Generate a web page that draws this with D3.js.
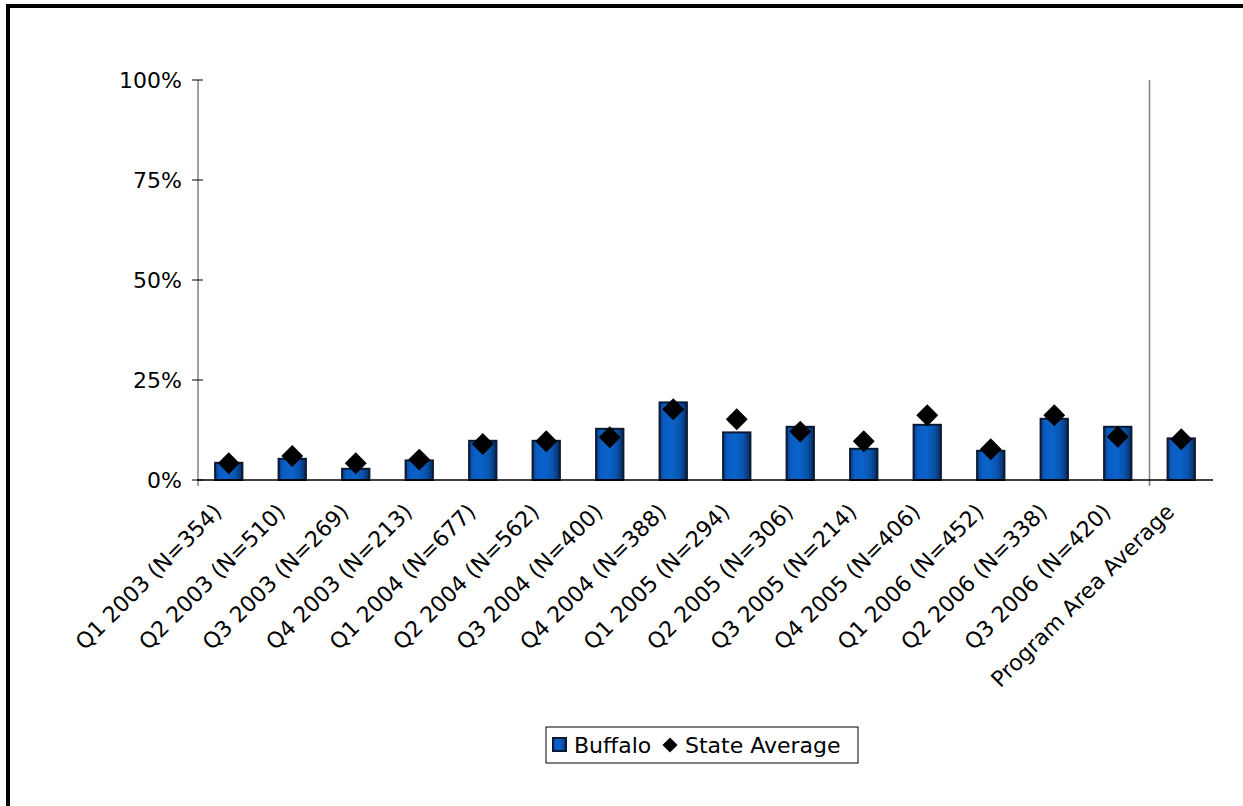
<!DOCTYPE html>
<html>
<head>
<meta charset="utf-8">
<script src="https://cdn.jsdelivr.net/npm/d3@7"></script>
<style>
  body { margin: 0; background: #fff; }
  text { font-family: Verdana, "DejaVu Sans", sans-serif; fill: #000; }
</style>
</head>
<body>
<script>
var categories = ["Q1 2003 (N=354)", "Q2 2003 (N=510)", "Q3 2003 (N=269)", "Q4 2003 (N=213)",
                  "Q1 2004 (N=677)", "Q2 2004 (N=562)", "Q3 2004 (N=400)", "Q4 2004 (N=388)",
                  "Q1 2005 (N=294)", "Q2 2005 (N=306)", "Q3 2005 (N=214)", "Q4 2005 (N=406)",
                  "Q1 2006 (N=452)", "Q2 2006 (N=338)", "Q3 2006 (N=420)", "Program Area Average"];
var buffalo = [4.3, 5.3, 2.8, 4.9, 9.8, 9.8, 12.8, 19.4, 11.9, 13.3, 7.8, 13.8, 7.3, 15.3, 13.3, 10.4];
var stateAvg = [4.2, 6.0, 4.2, 5.1, 9.0, 9.7, 10.7, 17.7, 15.2, 12.1, 9.7, 16.2, 7.7, 16.2, 10.8, 10.2];
var yTicks = [0, 25, 50, 75, 100];

var w = 1243, h = 806;
var pLeft = 197, pRight = 1213, pTop = 80, pBottom = 480;
var fs = "22px";

var svg = d3.select("body").append("svg")
    .attr("width", w)
    .attr("height", h);

// 棒のグラデーション
var grad = svg.append("defs").append("linearGradient")
    .attr("id", "barGrad").attr("x1", "0%").attr("x2", "100%").attr("y1", "0%").attr("y2", "0%");
[["0%", "#0c3a80"], ["15%", "#0a5cc2"], ["45%", "#0a63ca"], ["75%", "#0953ac"], ["100%", "#0a2a5c"]]
  .forEach(function(s) { grad.append("stop").attr("offset", s[0]).attr("stop-color", s[1]); });

// 外枠（左と上だけ見える）
svg.append("line").attr("x1", 8).attr("x2", 8).attr("y1", 4).attr("y2", h)
   .attr("stroke", "#000").attr("stroke-width", 4);
svg.append("line").attr("x1", 6).attr("x2", w).attr("y1", 6).attr("y2", 6)
   .attr("stroke", "#000").attr("stroke-width", 4);

var x = d3.scaleBand().domain(categories).range([pLeft, pRight]).padding(0);
var y = d3.scaleLinear().domain([0, 100]).range([pBottom, pTop]);
var barW = x.bandwidth() * 0.43;

// y 軸
svg.append("line").attr("x1", pLeft + 1).attr("x2", pLeft + 1).attr("y1", pTop).attr("y2", pBottom + 6)
   .attr("stroke", "#808080").attr("stroke-width", 1.5);
svg.selectAll(".ytick")
   .data(yTicks)
   .enter()
   .append("line")
   .attr("x1", pLeft - 5).attr("x2", pLeft + 6)
   .attr("y1", function(d) { return y(d); })
   .attr("y2", function(d) { return y(d); })
   .attr("stroke", "#000").attr("stroke-width", 1);
svg.selectAll(".ylab")
   .data(yTicks)
   .enter()
   .append("text")
   .attr("x", pLeft - 15)
   .attr("y", function(d) { return y(d); })
   .attr("dy", "0.36em")
   .attr("text-anchor", "end")
   .style("font-size", fs)
   .text(function(d) { return d + "%"; });

// 区切り線
svg.append("line")
   .attr("x1", x(categories[categories.length - 1])).attr("x2", x(categories[categories.length - 1]))
   .attr("y1", pTop).attr("y2", pBottom + 6)
   .attr("stroke", "#808080").attr("stroke-width", 1.5);

// 棒
svg.selectAll(".bar")
   .data(buffalo)
   .enter()
   .append("rect")
   .attr("x", function(d, i) { return x(categories[i]) + (x.bandwidth() - barW) / 2; })
   .attr("y", function(d) { return y(d); })
   .attr("width", barW)
   .attr("height", function(d) { return pBottom - y(d); })
   .attr("fill", "url(#barGrad)")
   .attr("stroke", "#0a1a33")
   .attr("stroke-width", 2);

// x 軸
svg.append("line").attr("x1", pLeft).attr("x2", pRight).attr("y1", pBottom).attr("y2", pBottom)
   .attr("stroke", "#000").attr("stroke-width", 1.5);

// 州平均のマーカー
var diamond = d3.symbol().type(d3.symbolSquare).size(240);
svg.selectAll(".pt")
   .data(stateAvg)
   .enter()
   .append("path")
   .attr("d", diamond)
   .attr("transform", function(d, i) {
     return "translate(" + (x(categories[i]) + x.bandwidth() / 2) + "," + y(d) + ") rotate(45)";
   })
   .attr("fill", "#000");

// x ラベル
svg.selectAll(".xlab")
   .data(categories)
   .enter()
   .append("text")
   .attr("transform", function(d) {
     return "translate(" + (x(d) + x.bandwidth() / 2 - 17) + "," + (pBottom + 22) + ") rotate(-45)";
   })
   .attr("dy", "0.72em")
   .attr("text-anchor", "end")
   .style("font-size", fs)
   .text(function(d) { return d; });

// 凡例
var lg = svg.append("g").attr("transform", "translate(546,727)");
lg.append("rect").attr("width", 312).attr("height", 36)
  .attr("fill", "#fff").attr("stroke", "#000").attr("stroke-width", 1);
lg.append("rect").attr("x", 7).attr("y", 11).attr("width", 13).attr("height", 13)
  .attr("fill", "url(#barGrad)").attr("stroke", "#0a1a33").attr("stroke-width", 2);
lg.append("text").attr("x", 28).attr("y", 26).style("font-size", fs).text("Buffalo");
lg.append("path").attr("d", d3.symbol().type(d3.symbolSquare).size(115))
  .attr("transform", "translate(124,18) rotate(45)").attr("fill", "#000");
lg.append("text").attr("x", 139).attr("y", 26).style("font-size", fs).text("State Average");
</script>
</body>
</html>
